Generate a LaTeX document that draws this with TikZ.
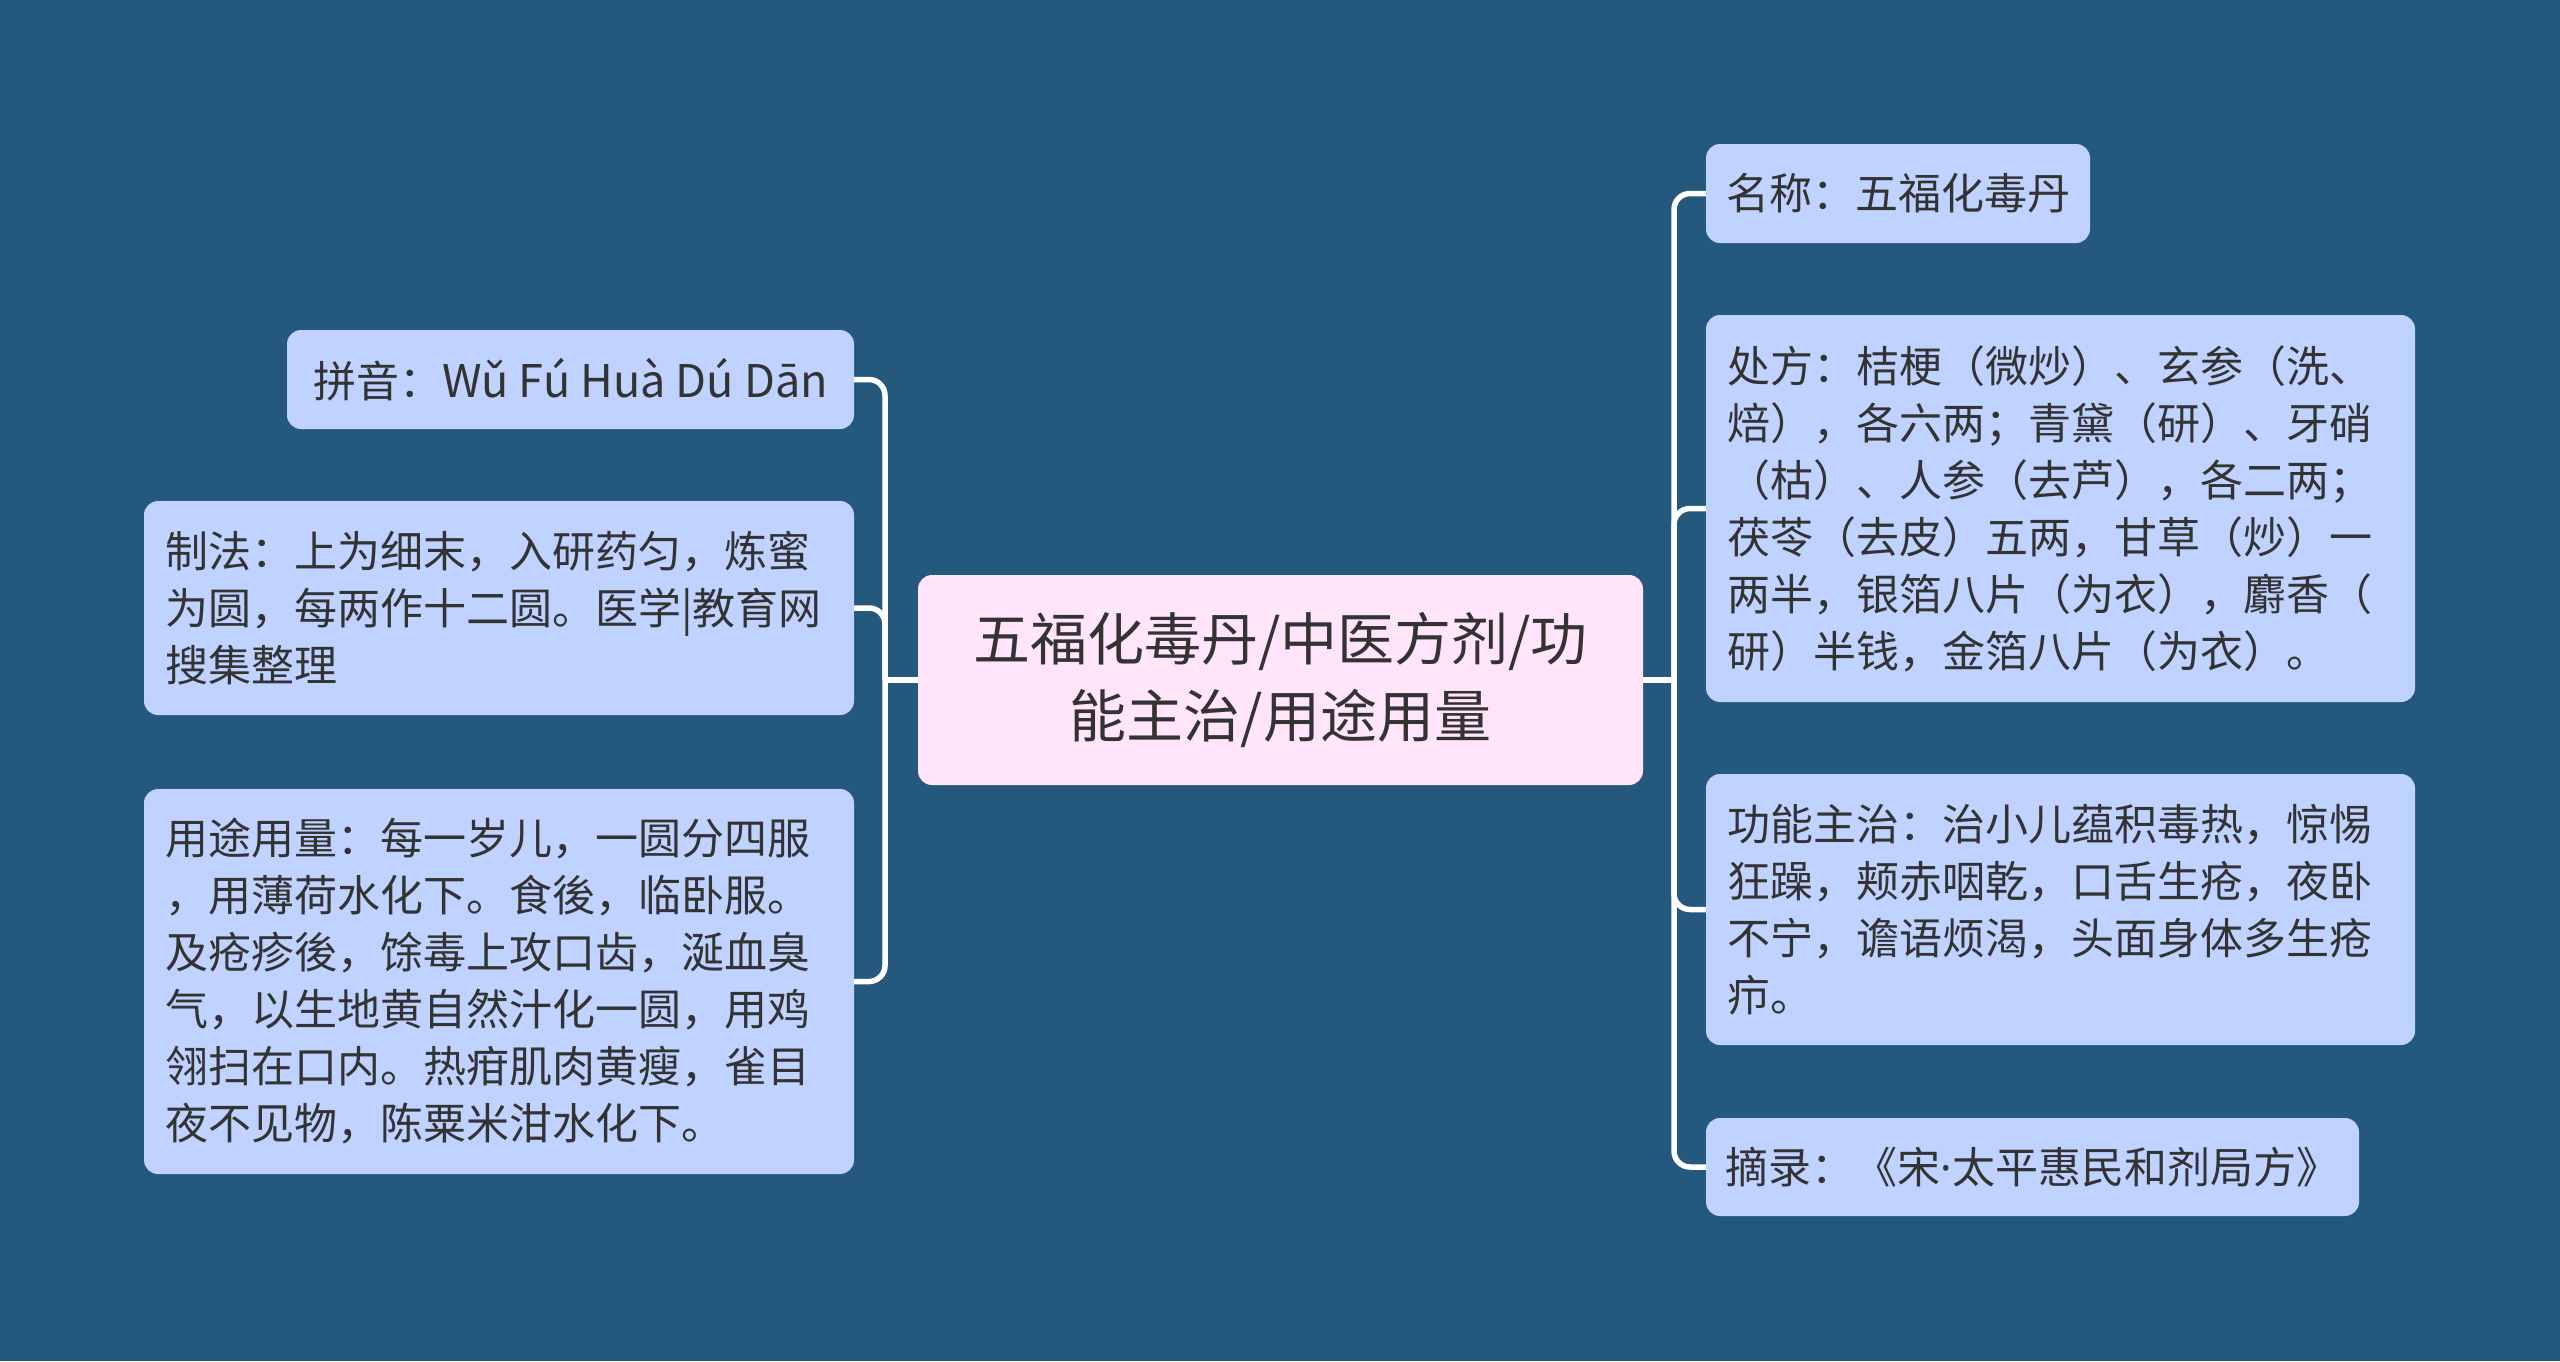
\documentclass[tikz,border=0pt]{standalone}
\usepackage{fontspec}
\newfontfamily\cjk{Noto Sans CJK SC}
\newfontfamily\latn{Noto Sans}
\definecolor{bgc}{RGB}{36,89,125}
\definecolor{leaf}{RGB}{192,210,255}
\definecolor{rootc}{RGB}{255,228,250}
\definecolor{txt}{RGB}{51,51,51}
\begin{document}
\begin{tikzpicture}[x=1pt,y=-1pt,
  leafbox/.style={fill=leaf, rounded corners=14pt, text=txt,
    font=\cjk\fontsize{43}{57}\selectfont, align=left,
    inner xsep=21pt, inner ysep=0pt, anchor=center},
  onebox/.style={fill=leaf, rounded corners=14pt, text=txt,
    font=\cjk\fontsize{43}{57}\selectfont,
    inner xsep=0pt, inner ysep=0pt, anchor=center},
  rootbox/.style={fill=rootc, rounded corners=14pt, text=txt,
    font=\cjk\fontsize{57}{77}\selectfont, align=center,
    inner sep=0pt, anchor=center},
  link/.style={draw=white, line width=5.5pt, rounded corners=16pt}]
\fill[bgc] (0,0) rectangle (2560,1361);
\useasboundingbox (0,0) rectangle (2560,1361);

\node[rootbox, minimum width=725pt, minimum height=210pt] (root) at (1280.5,680)
  {五福化毒丹/中医方剂/功\\能主治/用途用量};

% left side
\node[onebox, minimum width=567pt, minimum height=99pt] (pinyin) at (570.5,379.5)
  {拼音：{\fontsize{45}{57}\selectfont Wǔ Fú Huà Dú Dān}};
\node[leafbox, text width=668pt, minimum height=214pt] (zhifa) at (499,608)
  {制法：上为细末，入研药匀，炼蜜\\为圆，每两作十二圆。医学|教育网\\搜集整理};
\node[leafbox, text width=668pt, minimum height=385pt] (yongtu) at (499,981.5)
  {用途用量：每一岁儿，一圆分四服\\，用薄荷水化下。食後，临卧服。\\及疮疹後，馀毒上攻口齿，涎血臭\\气，以生地黄自然汁化一圆，用鸡\\翎扫在口内。热疳肌肉黄瘦，雀目\\夜不见物，陈粟米泔水化下。};

% right side
\node[onebox, minimum width=384pt, minimum height=99pt] (mingcheng) at (1898,193.5)
  {名称：五福化毒丹};
\node[leafbox, text width=667pt, minimum height=387pt] (chufang) at (2060.5,508.5)
  {处方：桔梗（微炒）、玄参（洗、\\焙），各六两；青黛（研）、牙硝\\（枯）、人参（去芦），各二两；\\茯苓（去皮）五两，甘草（炒）一\\两半，银箔八片（为衣），麝香（\\研）半钱，金箔八片（为衣）。};
\node[leafbox, text width=667pt, minimum height=271pt] (gongneng) at (2060.5,909.5)
  {功能主治：治小儿蕴积毒热，惊惕\\狂躁，颊赤咽乾，口舌生疮，夜卧\\不宁，谵语烦渴，头面身体多生疮\\疖。};
\node[onebox, minimum width=653pt, minimum height=98pt] (zhailu) at (2032.5,1167)
  {摘录：《宋{\latn ·}太平惠民和剂局方》};

\coordinate (jl) at (885,680);
\coordinate (jr) at (1674,680);
\draw[link] (root.west) -- (jl);
\draw[link] (root.east) -- (jr);
\draw[link] (jl) |- (pinyin.east);
\draw[link] (jl) |- (zhifa.east);
\draw[link] (jl) |- (yongtu.east);
\draw[link] (jr) |- (mingcheng.west);
\draw[link] (jr) |- (chufang.west);
\draw[link] (jr) |- (gongneng.west);
\draw[link] (jr) |- (zhailu.west);
\end{tikzpicture}
\end{document}
